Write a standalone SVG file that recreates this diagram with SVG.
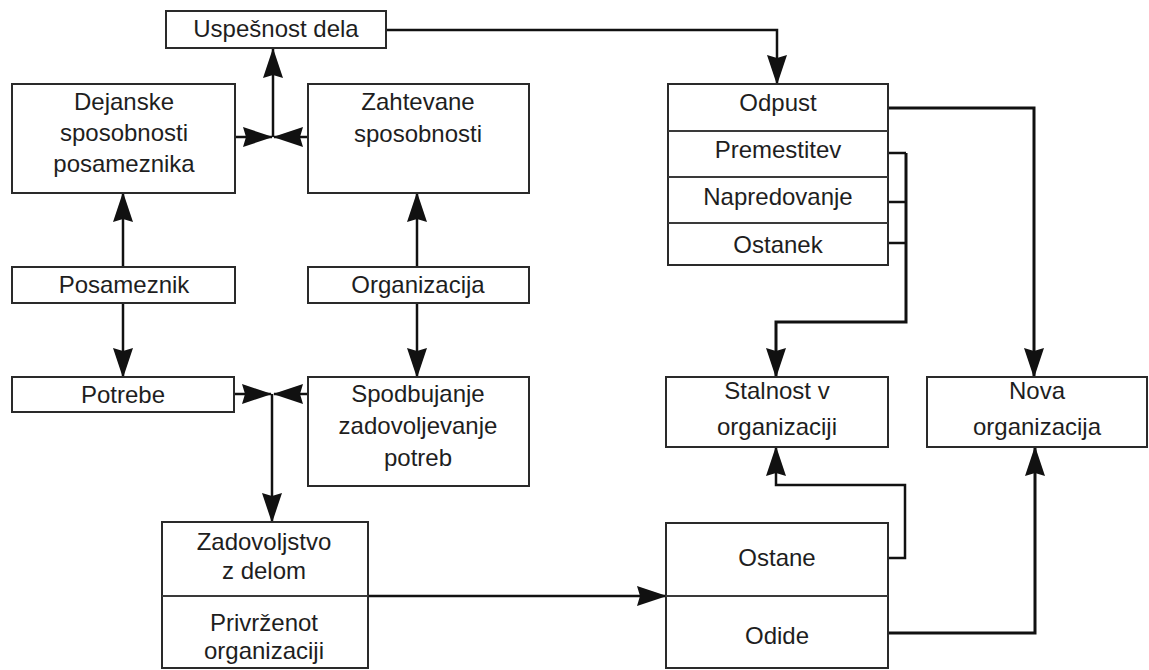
<svg xmlns="http://www.w3.org/2000/svg" width="1149" height="670" viewBox="0 0 1149 670">
  <style>
    .box { fill: #ffffff; stroke: #2a2a2a; stroke-width: 2; }
    .div { stroke: #3a3a3a; stroke-width: 2; fill: none; }
    .lbl { font-family: "Liberation Sans", Arial, sans-serif; font-size: 24px; fill: #1e1e1e; text-anchor: middle; }
    .wire { fill: none; stroke: #111111; stroke-width: 2.5; stroke-linejoin: miter; }
    .wire.heavy { stroke-width: 3; }
  </style>
  <defs>
    <marker id="head" markerUnits="userSpaceOnUse" viewBox="0 0 30 20" markerWidth="30" markerHeight="20" refX="29" refY="10" orient="auto">
      <path d="M0,0 L30,10 L0,20 L3,10 Z" fill="#111111"/>
    </marker>
  </defs>

  <rect width="1149" height="670" fill="#ffffff"/>

  <!-- connectors -->
  <g id="connectors">
    <path class="wire" d="M386,30 H777 V84" marker-end="url(#head)"/>
    <path class="wire" d="M273,137 V49" marker-end="url(#head)"/>
    <path class="wire" d="M235,137 H272" marker-end="url(#head)"/>
    <path class="wire" d="M308,137 H274" marker-end="url(#head)"/>
    <path class="wire" d="M123,267 V193" marker-end="url(#head)"/>
    <path class="wire" d="M417,267 V193" marker-end="url(#head)"/>
    <path class="wire" d="M123,303 V377" marker-end="url(#head)"/>
    <path class="wire" d="M417,303 V377" marker-end="url(#head)"/>
    <path class="wire" d="M234,394 H271" marker-end="url(#head)"/>
    <path class="wire" d="M308,394 H274" marker-end="url(#head)"/>
    <path class="wire" d="M272,394 V522" marker-end="url(#head)"/>
    <path class="wire" d="M368,596 H666" marker-end="url(#head)"/>
    <path class="wire" d="M888,558 H905 V485 H776 V447" marker-end="url(#head)"/>
    <path class="wire heavy" d="M888,633 H1035 V447" marker-end="url(#head)"/>
    <path class="wire heavy" d="M888,108 H1034 V377" marker-end="url(#head)"/>
    <path class="wire" d="M888,153 H906 M888,202 H906 M888,243 H906"/>
    <path class="wire heavy" d="M906,153 V322 H776 V377" marker-end="url(#head)"/>
  </g>

  <g id="uspesnost-dela">
    <rect class="box" x="166" y="11" width="220" height="37"/>
    <text class="lbl" x="276" y="37">Uspešnost dela</text>
  </g>

  <g id="dejanske-sposobnosti">
    <rect class="box" x="12" y="84" width="223" height="109"/>
    <text class="lbl" x="124" y="110">Dejanske</text>
    <text class="lbl" x="124" y="141">sposobnosti</text>
    <text class="lbl" x="124" y="172">posameznika</text>
  </g>

  <g id="zahtevane-sposobnosti">
    <rect class="box" x="308" y="84" width="221" height="109"/>
    <text class="lbl" x="418" y="110">Zahtevane</text>
    <text class="lbl" x="418" y="142">sposobnosti</text>
  </g>

  <g id="posameznik">
    <rect class="box" x="12" y="267" width="223" height="36"/>
    <text class="lbl" x="124" y="293">Posameznik</text>
  </g>

  <g id="organizacija">
    <rect class="box" x="308" y="267" width="221" height="36"/>
    <text class="lbl" x="418" y="293">Organizacija</text>
  </g>

  <g id="potrebe">
    <rect class="box" x="12" y="377" width="222" height="35"/>
    <text class="lbl" x="123" y="403">Potrebe</text>
  </g>

  <g id="spodbujanje">
    <rect class="box" x="308" y="377" width="221" height="109"/>
    <text class="lbl" x="418" y="402">Spodbujanje</text>
    <text class="lbl" x="418" y="434">zadovoljevanje</text>
    <text class="lbl" x="418" y="466">potreb</text>
  </g>

  <g id="zadovoljstvo">
    <rect class="box" x="162" y="522" width="206" height="146"/>
    <line class="div" x1="162" y1="596" x2="368" y2="596"/>
    <text class="lbl" x="264" y="550">Zadovoljstvo</text>
    <text class="lbl" x="264" y="579">z delom</text>
    <text class="lbl" x="264" y="631">Privrženot</text>
    <text class="lbl" x="264" y="659">organizaciji</text>
  </g>

  <g id="odpust-skupina">
    <rect class="box" x="668" y="84" width="220" height="181"/>
    <line class="div" x1="668" y1="131" x2="888" y2="131"/>
    <line class="div" x1="668" y1="177" x2="888" y2="177"/>
    <line class="div" x1="668" y1="223" x2="888" y2="223"/>
    <text class="lbl" x="778" y="111">Odpust</text>
    <text class="lbl" x="778" y="158">Premestitev</text>
    <text class="lbl" x="778" y="205">Napredovanje</text>
    <text class="lbl" x="778" y="253">Ostanek</text>
  </g>

  <g id="stalnost">
    <rect class="box" x="666" y="377" width="222" height="70"/>
    <text class="lbl" x="777" y="399">Stalnost v</text>
    <text class="lbl" x="777" y="435">organizaciji</text>
  </g>

  <g id="nova-organizacija">
    <rect class="box" x="927" y="377" width="220" height="70"/>
    <text class="lbl" x="1037" y="399">Nova</text>
    <text class="lbl" x="1037" y="435">organizacija</text>
  </g>

  <g id="ostane-odide">
    <rect class="box" x="666" y="523" width="222" height="145"/>
    <line class="div" x1="666" y1="596" x2="888" y2="596"/>
    <text class="lbl" x="777" y="566">Ostane</text>
    <text class="lbl" x="777" y="644">Odide</text>
  </g>
</svg>
